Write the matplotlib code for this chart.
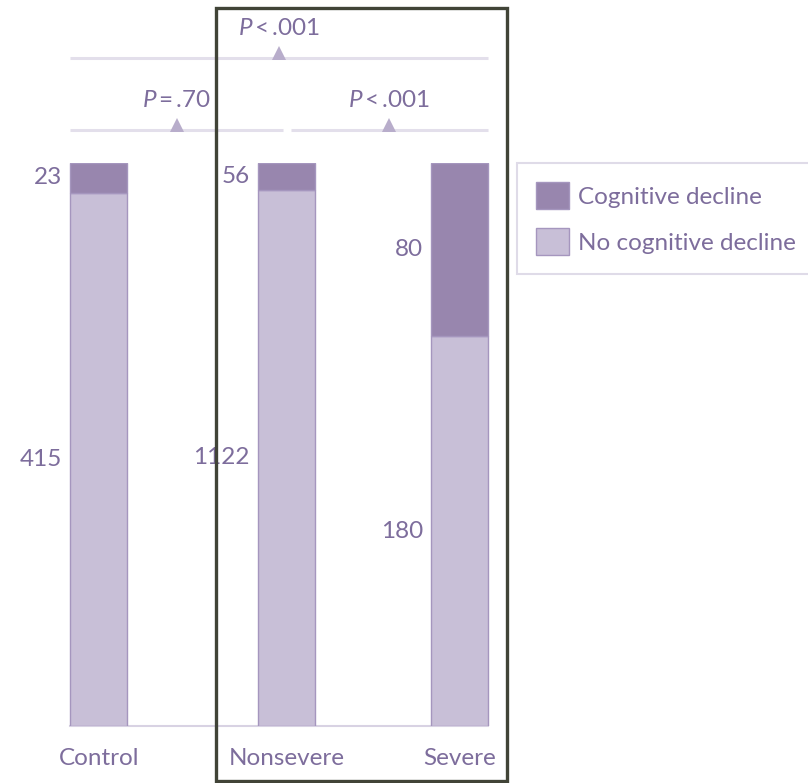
import numpy as np
import matplotlib
matplotlib.use("Agg")
import matplotlib.pyplot as plt
from matplotlib.patches import Rectangle, Patch

plt.rcParams['font.family'] = ['Lato', 'DejaVu Sans']
plt.rcParams['mathtext.fontset'] = 'custom'
plt.rcParams['mathtext.it'] = 'Lato:italic'
plt.rcParams['mathtext.rm'] = 'Lato'

# data
groups = ["Control", "Nonsevere", "Severe"]
decline = np.array([23, 56, 80])
no_decline = np.array([415, 1122, 180])
p_pairs = ["$P$\u2009=\u2009.70", "$P$\u2009<\u2009.001"]   # control vs nonsevere, nonsevere vs severe
p_overall = "$P$\u2009<\u2009.001"

dark = "#9886ae"
light = "#c8bfd7"
edge = "#a596be"
txt = "#7d6d9c"
line_c = "#e3dfeb"
tri_c = "#b8adcb"
fs = 17.5

total = decline + no_decline
frac_dec = decline / total
frac_no = no_decline / total

fig = plt.figure(figsize=(8.08, 7.83), dpi=100)
ax = fig.add_axes([0.0108, 0.0728, 0.670, 0.719])

xpos = np.array([0.0, 1.04, 2.0])
w = 0.316
ax.bar(xpos, frac_no, width=w, color=light, edgecolor=edge, linewidth=1)
ax.bar(xpos, frac_dec, width=w, bottom=frac_no, color=dark, edgecolor=edge, linewidth=1)

# value labels to the left of each segment
for i in range(3):
    ax.text(xpos[i] - w / 2 - 0.045, frac_no[i] + frac_dec[i] / 2, str(decline[i]),
            ha="right", va="center", fontsize=fs, color=txt)
    ax.text(xpos[i] - w / 2 - 0.045, frac_no[i] / 2, str(no_decline[i]),
            ha="right", va="center", fontsize=fs, color=txt)

# baseline
left, right = xpos[0] - w / 2, xpos[2] + w / 2
ax.plot([left, right], [0, 0], color="#d8d2e3", lw=1.5, clip_on=False, zorder=0)

# comparison brackets
y1, y2 = 1.0586, 1.1865
gap = 0.022
for a, b, lab, yy in [(left, xpos[1] - gap, p_pairs[0], y1),
                      (xpos[1] + gap, right, p_pairs[1], y1),
                      (left, right, p_overall, y2)]:
    ax.plot([a, b], [yy, yy], color=line_c, lw=2.2, clip_on=False, solid_capstyle="butt")
    m = (a + b) / 2
    ax.plot(m, yy + 0.009, marker="^", ms=10, color=tri_c, clip_on=False, mew=0)
    ax.text(m, yy + 0.052, lab, ha="center", va="center", fontsize=fs, color=txt)

ax.set_xlim(-0.5, 2.5)
ax.set_ylim(0, 1)
ax.set_xticks(xpos)
ax.set_xticklabels(groups, fontsize=fs, color=txt)
ax.tick_params(axis="x", length=0, pad=16)
ax.set_yticks([])
for s in ax.spines.values():
    s.set_visible(False)

# legend
handles = [Patch(facecolor=dark, edgecolor=edge), Patch(facecolor=light, edgecolor=edge)]
leg = fig.legend(handles, ["Cognitive decline", "No cognitive decline"],
                 loc="upper left", bbox_to_anchor=(517 / 808, 1 - 163 / 783),
                 fontsize=fs, frameon=True, fancybox=False, edgecolor="#d8d2e3",
                 handlelength=1.32, handleheight=1.32, handletextpad=0.4,
                 labelspacing=0.78, borderpad=0.8, borderaxespad=0)
leg.get_frame().set_linewidth(1.5)
for t in leg.get_texts():
    t.set_color(txt)

# highlight frame around nonsevere and severe
fig.patches.append(Rectangle((216 / 808, 1 - 781 / 783), 291 / 808, 773 / 783,
                             transform=fig.transFigure, fill=False,
                             edgecolor="#414437", linewidth=2.4))

fig.savefig("out.png", dpi=100)
